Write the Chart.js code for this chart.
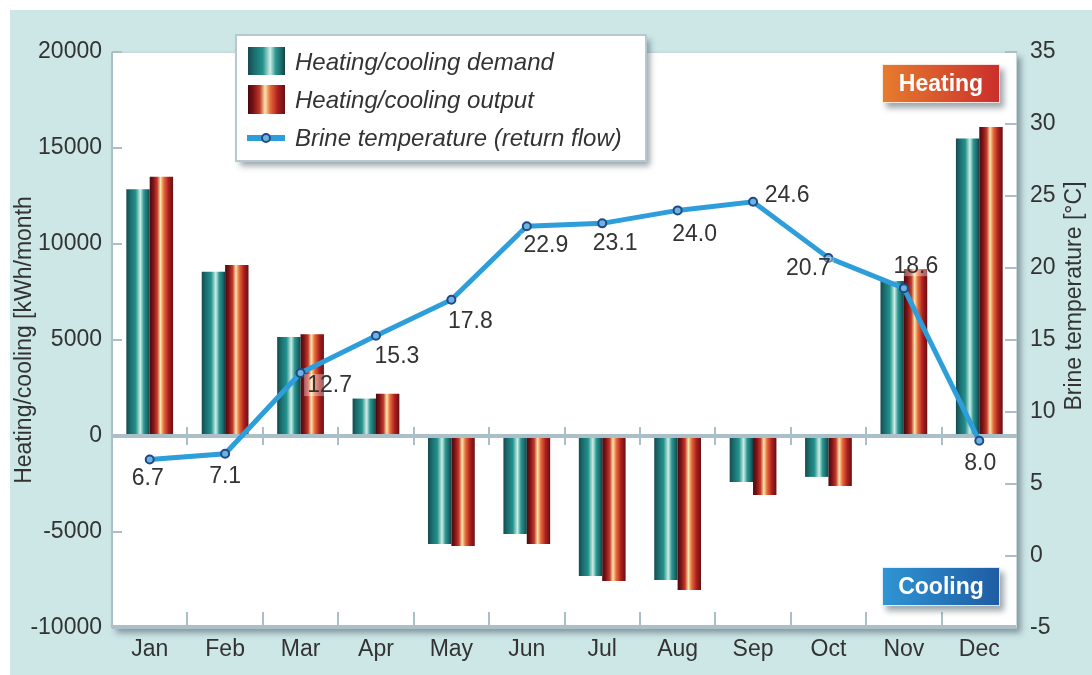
<!DOCTYPE html>
<html>
<head>
<meta charset="utf-8">
<script src="https://cdn.jsdelivr.net/npm/chart.js@4"></script>
<style>
  html, body { margin: 0; padding: 0; background: #fff; }
  #wrap { width: 1092px; height: 675px; }
</style>
</head>
<body>
<div id="wrap"><canvas id="chart" width="1092" height="675"></canvas></div>
<script>
const months = ['Jan', 'Feb', 'Mar', 'Apr', 'May', 'Jun', 'Jul', 'Aug', 'Sep', 'Oct', 'Nov', 'Dec'];
// kWh per month, positive = heating, negative = cooling
const demand = [12850, 8550, 5150, 1950, -5620, -5100, -7290, -7500, -2400, -2130, 8070, 15500];
const output = [13500, 8900, 5300, 2200, -5730, -5620, -7550, -8020, -3070, -2600, 8700, 16100];
// brine temperature, return flow, degC
const brineTemp = [6.7, 7.1, 12.7, 15.3, 17.8, 22.9, 23.1, 24.0, 24.6, 20.7, 18.6, 8.0];

// where each temperature label sits relative to its point (px)
const labelShift = [[-2, 18], [0, 22], [29, 12], [21, 20], [19, 21], [19, 18],
                    [13, 19], [17, 23], [34, -7], [-20, 10], [12, -23], [1, 22]];

const FONT = '"Liberation Sans", Arial, Helvetica, sans-serif';
const TEXT = '#333';
const CAT_PCT = 0.62;
const GRID = '#aabfc7';

const tealStops = [[0, '#164a50'], [0.18, '#1b6f70'], [0.4, '#23928c'], [0.6, '#cdeee6'],
                   [0.75, '#2a9690'], [0.9, '#1b6a6a'], [1, '#153f45']];
const redStops = [[0, '#480a0c'], [0.15, '#7e1216'], [0.32, '#c23a2a'], [0.46, '#fbe6ac'],
                  [0.6, '#e66c3a'], [0.8, '#ae1f1f'], [1, '#651012']];

function stripes(ctx, x0, x1, stops) {
  const g = ctx.createLinearGradient(x0, 0, x1, 0);
  stops.forEach(([p, c]) => g.addColorStop(p, c));
  return g;
}

// vertical stripe shading across each bar's own width
function barFill(stops) {
  return (c) => {
    const chart = c.chart;
    const xs = chart.scales.x;
    if (!chart.chartArea || !xs) return stops[2][1];
    const centre = xs.getPixelForValue(c.dataIndex);
    const w = xs.width / months.length * CAT_PCT / 2;
    const left = c.datasetIndex === 0 ? centre - w : centre;
    return stripes(chart.ctx, left, left + w, stops);
  };
}

function shadowBox(ctx, x, y, w, h, fill) {
  ctx.save();
  ctx.shadowColor = 'rgba(40,60,70,0.45)';
  ctx.shadowBlur = 6;
  ctx.shadowOffsetX = 4;
  ctx.shadowOffsetY = 5;
  ctx.fillStyle = fill;
  ctx.fillRect(x, y, w, h);
  ctx.restore();
}

const backdrop = {
  id: 'backdrop',
  beforeDraw(chart) {
    const { ctx, chartArea: a } = chart;
    ctx.save();
    ctx.fillStyle = '#fff';
    ctx.fillRect(0, 0, chart.width, chart.height);
    ctx.fillStyle = '#cde6e6';
    ctx.fillRect(10, 10, chart.width - 10, chart.height - 10);
    ctx.restore();
    shadowBox(ctx, a.left, a.top, a.width, a.height, '#fff');
    ctx.save();
    ctx.strokeStyle = GRID;
    ctx.lineWidth = 2;
    ctx.beginPath();
    ctx.moveTo(a.left, a.top);
    ctx.lineTo(a.left, a.bottom);
    ctx.stroke();
    ctx.lineWidth = 4;
    ctx.beginPath();
    ctx.moveTo(a.left, a.bottom - 1);
    ctx.lineTo(a.right, a.bottom - 1);
    ctx.stroke();
    ctx.strokeStyle = '#c9d8de';
    ctx.lineWidth = 1;
    ctx.beginPath();
    ctx.moveTo(a.left, a.top + 0.5);
    ctx.lineTo(a.right - 0.5, a.top + 0.5);
    ctx.lineTo(a.right - 0.5, a.bottom);
    ctx.stroke();
    ctx.restore();
  },
  beforeDatasetDraw(chart, args) {
    if (args.meta.type !== 'line') return;
    const { ctx, chartArea: a, scales } = chart;
    const zero = scales.y.getPixelForValue(0);
    ctx.save();
    ctx.strokeStyle = GRID;
    ctx.lineWidth = 4;
    ctx.beginPath();
    ctx.moveTo(a.left, zero);
    ctx.lineTo(a.right, zero);
    ctx.stroke();
    // short marks between months, at the zero line and along the bottom
    ctx.lineWidth = 2;
    const step = scales.x.width / months.length;
    for (let i = 1; i < months.length; i++) {
      const x = Math.round(a.left + step * i);
      ctx.beginPath();
      ctx.moveTo(x, zero - 9);
      ctx.lineTo(x, zero + 9);
      ctx.moveTo(x, a.bottom - 16);
      ctx.lineTo(x, a.bottom);
      ctx.stroke();
    }
    // inward tick marks for both value axes
    scales.y.ticks.forEach(t => {
      const y = Math.round(scales.y.getPixelForValue(t.value));
      ctx.beginPath();
      ctx.moveTo(a.left, y);
      ctx.lineTo(a.left + 10, y);
      ctx.stroke();
    });
    scales.y1.ticks.forEach(t => {
      const y = Math.round(scales.y1.getPixelForValue(t.value));
      ctx.beginPath();
      ctx.moveTo(a.right - 12, y);
      ctx.lineTo(a.right, y);
      ctx.stroke();
    });
    ctx.restore();
  }
};

const valueLabels = {
  id: 'valueLabels',
  afterDatasetsDraw(chart) {
    const { ctx } = chart;
    const meta = chart.getDatasetMeta(2);
    ctx.save();
    ctx.font = '23px ' + FONT;
    ctx.textAlign = 'center';
    ctx.textBaseline = 'middle';
    meta.data.forEach((pt, i) => {
      const txt = brineTemp[i].toFixed(1);
      const x = pt.x + labelShift[i][0];
      const y = pt.y + labelShift[i][1];
      const w = ctx.measureText(txt).width + 6;
      ctx.fillStyle = 'rgba(255,255,255,0.35)';
      ctx.fillRect(x - w / 2, y - 11, w, 22);
      ctx.fillStyle = TEXT;
      ctx.fillText(txt, x, y + 1);
    });
    ctx.restore();
  }
};

function tag(ctx, text, x, y, w, h, c0, c1) {
  const g = ctx.createLinearGradient(x, 0, x + w, 0);
  g.addColorStop(0, c0);
  g.addColorStop(1, c1);
  shadowBox(ctx, x, y, w, h, g);
  ctx.save();
  ctx.strokeStyle = 'rgba(255,255,255,0.85)';
  ctx.lineWidth = 1;
  ctx.strokeRect(x + 0.5, y + 0.5, w - 1, h - 1);
  ctx.fillStyle = '#fff';
  ctx.font = 'bold 23px ' + FONT;
  ctx.textAlign = 'center';
  ctx.textBaseline = 'middle';
  ctx.fillText(text, x + w / 2, y + h / 2 + 1);
  ctx.restore();
}

const overlay = {
  id: 'overlay',
  afterDraw(chart) {
    const { ctx } = chart;
    const ds = chart.data.datasets;

    // legend box
    shadowBox(ctx, 236, 35, 410, 126, '#fff');
    ctx.save();
    ctx.strokeStyle = '#b7c9d0';
    ctx.lineWidth = 2;
    ctx.strokeRect(236, 35, 410, 126);
    ctx.fillStyle = stripes(ctx, 248, 285, tealStops);
    ctx.fillRect(248, 47, 37, 28);
    ctx.fillStyle = stripes(ctx, 248, 285, redStops);
    ctx.fillRect(248, 85, 37, 29);
    ctx.strokeStyle = ds[2].borderColor;
    ctx.lineWidth = 6;
    ctx.beginPath();
    ctx.moveTo(247, 138);
    ctx.lineTo(285, 138);
    ctx.stroke();
    ctx.beginPath();
    ctx.arc(266, 138, 4, 0, Math.PI * 2);
    ctx.fillStyle = ds[2].pointBackgroundColor;
    ctx.fill();
    ctx.lineWidth = 2;
    ctx.strokeStyle = ds[2].pointBorderColor;
    ctx.stroke();
    ctx.fillStyle = TEXT;
    ctx.font = 'italic 24px ' + FONT;
    ctx.textBaseline = 'middle';
    [62, 100, 138].forEach((y, i) => ctx.fillText(ds[i].label, 295, y + 1));
    ctx.restore();

    tag(ctx, 'Heating', 882, 64, 118, 39, '#e67c2e', '#cb2e2b');
    tag(ctx, 'Cooling', 882, 567, 118, 39, '#2f95d4', '#1e5ca3');

    // right axis title
    ctx.save();
    ctx.translate(1075, 296);
    ctx.rotate(-Math.PI / 2);
    ctx.font = '23px ' + FONT;
    ctx.fillStyle = TEXT;
    ctx.textAlign = 'center';
    ctx.textBaseline = 'middle';
    ctx.fillText('Brine temperature [°C]', 0, 0);
    ctx.restore();
  }
};

const tickFont = { family: FONT, size: 23 };

new Chart(document.getElementById('chart'), {
  data: {
    labels: months,
    datasets: [
      {
        type: 'bar',
        label: 'Heating/cooling demand',
        data: demand,
        backgroundColor: barFill(tealStops),
        borderWidth: 0,
        categoryPercentage: CAT_PCT,
        barPercentage: 1,
        yAxisID: 'y',
        order: 1
      },
      {
        type: 'bar',
        label: 'Heating/cooling output',
        data: output,
        backgroundColor: barFill(redStops),
        borderWidth: 0,
        categoryPercentage: CAT_PCT,
        barPercentage: 1,
        yAxisID: 'y',
        order: 1
      },
      {
        type: 'line',
        label: 'Brine temperature (return flow)',
        data: brineTemp,
        borderColor: '#2e9edb',
        borderWidth: 5,
        tension: 0,
        pointRadius: 4,
        pointBorderWidth: 2,
        pointBackgroundColor: '#6fb2de',
        pointBorderColor: '#1d4a8a',
        yAxisID: 'y1',
        order: 0
      }
    ]
  },
  options: {
    responsive: false,
    animation: false,
    devicePixelRatio: 1,
    layout: { padding: { top: 52 } },
    plugins: {
      legend: { display: false },
      tooltip: { enabled: false }
    },
    scales: {
      x: {
        grid: { display: false, drawTicks: false },
        border: { display: false },
        ticks: { font: tickFont, color: TEXT, padding: 8 },
        afterFit(s) { s.height = 47; }
      },
      y: {
        position: 'left',
        min: -10000,
        max: 20000,
        grid: { display: false, drawTicks: false },
        border: { display: false },
        ticks: { stepSize: 5000, font: tickFont, color: TEXT, padding: 10, callback: v => String(v) },
        title: {
          display: true,
          text: 'Heating/cooling [kWh/month',
          font: { family: FONT, size: 23 },
          color: TEXT,
          padding: { top: 11, bottom: 0 }
        },
        afterFit(s) { s.width = 112; }
      },
      y1: {
        position: 'right',
        min: -5,
        max: 35,
        grid: { display: false, drawTicks: false },
        border: { display: false },
        ticks: { stepSize: 5, font: tickFont, color: TEXT, padding: 13, callback: v => String(v) },
        afterFit(s) { s.width = 75; }
      }
    }
  },
  plugins: [backdrop, valueLabels, overlay]
});
</script>
</body>
</html>
